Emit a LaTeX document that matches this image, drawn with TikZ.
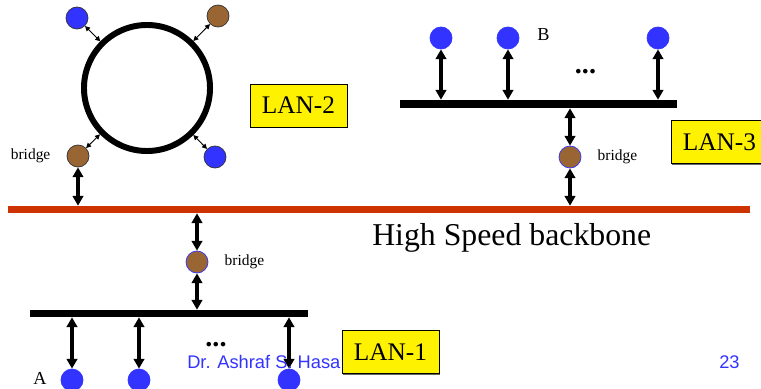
\documentclass[tikz,border=0pt]{standalone}
\usepackage{fontspec}
\setmainfont{Liberation Serif}
\newfontfamily\arialfont{Liberation Sans}
\usepackage{tikz}
\usetikzlibrary{arrows.meta, positioning, shadows}
\definecolor{stnblue}{RGB}{51,51,255}
\definecolor{brgbrown}{RGB}{153,102,51}
\definecolor{bbred}{RGB}{204,51,0}
\tikzset{
    stn/.style={circle, fill=stnblue, draw=stnblue, line width=0.5pt, inner sep=0pt, minimum size=0.55cm},
    brg/.style={stn, fill=brgbrown},
    ringstn/.style={stn, draw=black!80},
    link/.style={{Triangle[length=7pt,width=7.5pt]}-{Triangle[length=7pt,width=7.5pt]}, line width=2.4pt},
    thinlink/.style={{Triangle[length=3.5pt,width=3.5pt]}-{Triangle[length=3.5pt,width=3.5pt]}, line width=0.7pt},
    bus/.style={rectangle, fill=black, inner sep=0pt, minimum height=0.2cm},
    lanbox/.style={draw, fill=yellow, line width=0.6pt, inner sep=0pt, minimum width=2.425cm, minimum height=1.075cm,
        font=\fontsize{18}{20}\selectfont, drop shadow={shadow xshift=0.8pt, shadow yshift=-0.8pt, fill=black!60, opacity=1}},
    lbl/.style={inner sep=0pt, font=\fontsize{11}{13}\selectfont},
    dots/.style={inner sep=0pt, font=\fontsize{20}{22}\selectfont\bfseries},
}
\begin{document}
\begin{tikzpicture}[x=0.025cm, y=-0.025cm]
            \useasboundingbox[fill=white] (0,0) rectangle (761,388);
            % LAN-2 (リング)
            \node[circle, draw, line width=4.25pt, inner sep=0pt, minimum size=3.15cm] (ring) at (147,88) {};
            \node[ringstn] (s1) at (77,18) {};
            \node[ringstn, fill=brgbrown] (s2) at (218,16) {};
            \node[ringstn, fill=brgbrown] (br2) at (78,156) {};
            \node[ringstn] (s4) at (215,157) {};
            \foreach \s in {s1,s2,br2,s4} \draw[thinlink] (\s) -- (ring);
            \node[lbl, left=0.4cm of br2] (br2lbl) {bridge};
            \node[lanbox] (lan2lbl) at (298.5,105.5) {LAN-2};
            % バックボーン
            \node[bus, fill=bbred, minimum width=18.55cm, minimum height=0.175cm] (backbone) at (379,209.5) {};
            \draw[link] (br2) -- (br2 |- backbone.north);
            \node[anchor=base west, inner sep=0pt, font=\fontsize{22.6}{26}\selectfont] (bbtext) at (372,245) {High Speed backbone};
            % LAN-3
            \node[bus, minimum width=6.925cm] (lan3) at (538.5,104) {};
            \node[stn] (b1) at (441,38) {};
            \node[stn] (b2) at (508,38) {};
            \node[stn] (b3) at (658,38) {};
            \foreach \s in {b1,b2,b3} \draw[link] (\s) -- (\s |- lan3.north);
            \node[anchor=base west, inner sep=0pt, font=\fontsize{13}{15}\selectfont] (blbl) at (537,40) {B};
            \node[dots] (dots3) at (585.5,72) {...};
            \node[brg] (br3) at (570,157) {};
            \draw[link] (br3) -- (br3 |- lan3.south);
            \draw[link] (br3) -- (br3 |- backbone.north);
            \node[lbl, right=0.4cm of br3] (br3lbl) {bridge};
            \node[lanbox] (lan3lbl) at (719.5,142) {LAN-3};
            % LAN-1
            \node[brg] (br1) at (197,262) {};
            \draw[link] (br1) -- (br1 |- backbone.south);
            \node[lbl, right=0.4cm of br1] (br1lbl) {bridge};
            \node[bus, minimum width=6.95cm, minimum height=0.175cm] (lan1) at (169,313.5) {};
            \draw[link] (br1) -- (br1 |- lan1.north);
            \node[stn] (a1) at (72,380) {};
            \node[stn] (a2) at (139,380) {};
            \node[stn] (a3) at (289,380) {};
            \foreach \s in {a1,a2,a3} \draw[link] (\s) -- (\s |- lan1.south);
            \node[anchor=base west, inner sep=0pt, font=\fontsize{13}{15}\selectfont] (albl) at (33,384) {A};
            \node[dots] (dots1) at (216,345) {...};
            \node[anchor=base west, inner sep=0pt, text=stnblue, font=\arialfont\fontsize{13}{15}\selectfont] (author) at (187,368) {Dr. Ashraf S. Hasa};
            \node[lanbox] (lan1lbl) at (390.5,352) {LAN-1};
            \node[anchor=base west, inner sep=0pt, text=stnblue, font=\arialfont\fontsize{13}{15}\selectfont] (pageno) at (719,368) {23};
        \end{tikzpicture}
\end{document}
